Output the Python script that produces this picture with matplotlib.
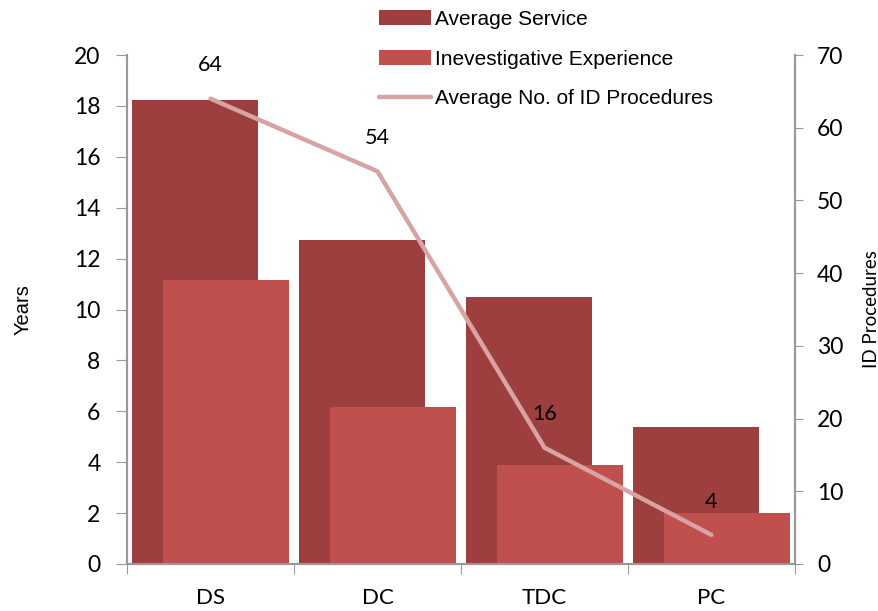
import numpy as np
import matplotlib.pyplot as plt

# chart data
categories = ['DS', 'DC', 'TDC', 'PC']
avg_service = [18.25, 12.75, 10.5, 5.4]
inv_experience = [11.15, 6.15, 3.9, 2.0]
id_procedures = [64, 54, 16, 4]

c_service = '#9C3F3E'
c_exp = '#C0504E'
c_line = '#D8A4A3'
grey = '#999999'

fig = plt.figure(figsize=(8.79, 6.11), dpi=100)
ax = fig.add_axes([127/879, 1 - 564/611, (795 - 127)/879, (564 - 55)/611])
ax2 = ax.twinx()

x = np.arange(len(categories))
width = 0.75
off = 0.093

b1 = ax.bar(x - off, avg_service, width, color=c_service, label='Average Service', zorder=2)
b2 = ax.bar(x + off, inv_experience, width, color=c_exp, label='Inevestigative Experience', zorder=3)

ax.set_xlim(-0.5, len(categories) - 0.5)
ax.set_ylim(0, 20)
ax.set_yticks(range(0, 21, 2))
ax2.set_ylim(0, 70)
ax2.set_yticks(range(0, 71, 10))

ln, = ax2.plot(x, id_procedures, color=c_line, lw=3.2, solid_capstyle='round',
               label='Average No. of ID Procedures', zorder=4)
for xi, v in zip(x, id_procedures):
    ax2.annotate(str(v), (xi, v), xytext=(0, 24), textcoords='offset points',
                 ha='center', va='center', fontsize=15.5, family='Lato')

# category ticks sit on the boundaries, labels in the middle
ax.set_xticks(np.arange(-0.5, len(categories), 1))
ax.set_xticklabels([])
ax.set_xticks(x, minor=True)
ax.set_xticklabels(categories, minor=True, fontsize=16, family='Lato')
ax.tick_params(axis='x', which='minor', length=0, pad=17)
ax.tick_params(axis='x', which='major', direction='out', length=7, color=grey)

ax.tick_params(axis='y', direction='out', length=8, color=grey, labelsize=16.5, pad=11)
ax2.tick_params(axis='y', direction='out', length=6, color=grey, labelsize=16.5, pad=10)
for lab in ax.get_yticklabels() + ax2.get_yticklabels():
    lab.set_family('Lato')

for a in (ax, ax2):
    a.spines['top'].set_visible(False)
    for s in ('left', 'right', 'bottom'):
        a.spines[s].set_color(grey)
        a.spines[s].set_linewidth(1.5)

ax.set_ylabel('Years', fontsize=14.5, family='Liberation Sans', labelpad=30)
ax2.set_ylabel('ID Procedures', fontsize=13.5, family='Lato', labelpad=14)

fig.legend(handles=[b1, b2, ln], loc='upper left', bbox_to_anchor=(364/879, 1.008),
           frameon=False, prop={'family': 'Liberation Sans', 'size': 15},
           handlelength=2.5, handleheight=0.7, handletextpad=0.2,
           labelspacing=1.0, borderpad=0.2)

fig.savefig('out.png', dpi=100)
